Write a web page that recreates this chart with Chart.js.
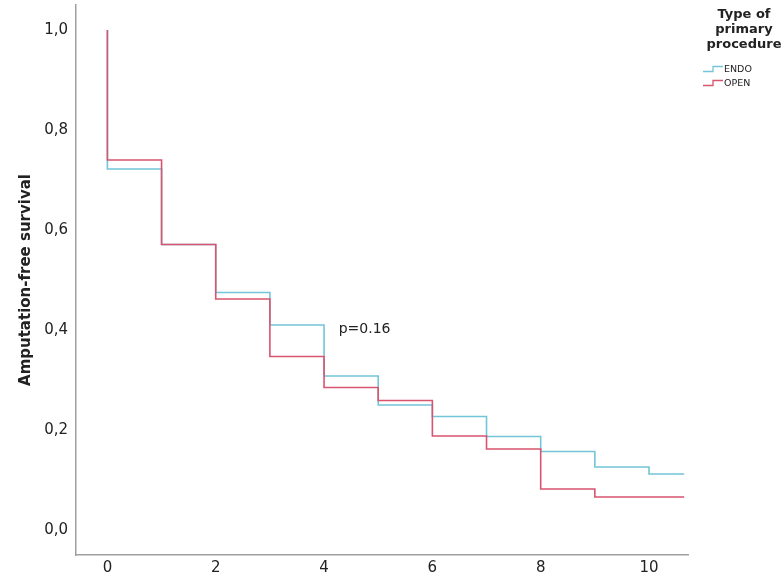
<!DOCTYPE html>
<html>
<head>
<meta charset="utf-8">
<script src="https://cdn.jsdelivr.net/npm/chart.js@4/dist/chart.umd.min.js"></script>
<style>
  html, body { margin: 0; padding: 0; background: #fff; }
  #wrap { position: relative; width: 782px; height: 580px; }
  #legend { position: absolute; left: 703px; top: 6px; width: 84px; font-family: "DejaVu Sans", sans-serif; color: #222; }
  #legend .title { font-weight: bold; font-size: 13px; line-height: 15px; text-align: center; padding-right: 2px; }
  #legend .item { font-size: 9.5px; line-height: 14px; height: 14px; display: flex; align-items: center; }
  #legend svg { margin-left: 0px; margin-right: 1px; }
</style>
</head>
<body>
<div id="wrap">
  <canvas id="c" width="782" height="580"></canvas>
  <div id="legend"></div>
</div>
<script>
// ---- data ----
const seriesNames = ["ENDO", "OPEN"];
const seriesColors = ["#74c5d9", "#d9546f"];
const legendTitle = ["Type of", "primary", "procedure"];
const endoTimes  = [0, 0, 1, 2, 3, 4, 5, 6, 7, 8, 9, 10, 10.65];
const endoValues = [1.0, 0.722, 0.571, 0.475, 0.410, 0.308, 0.250, 0.227, 0.187, 0.157, 0.126, 0.112, 0.112];
const openTimes  = [0, 0, 1, 2, 3, 4, 5, 6, 7, 8, 9, 10.65];
const openValues = [1.0, 0.740, 0.571, 0.462, 0.347, 0.285, 0.259, 0.188, 0.162, 0.082, 0.066, 0.066];
const xTicks = [0, 2, 4, 6, 8, 10];
const yTicks = [0, 0.2, 0.4, 0.6, 0.8, 1.0];
const yTitle = "Amputation-free survival";
const pText = "p=0.16";
const pAt = { x: 4.27, y: 0.402 };

const FONT = '"DejaVu Sans", sans-serif';

function pts(ts, vs) { return ts.map((t, i) => ({ x: t, y: vs[i] })); }

// legend (HTML, real text)
const lg = document.getElementById('legend');
lg.innerHTML = '<div class="title">' + legendTitle.join('<br>') + '</div>' +
  '<div style="height:11px"></div>' +
  seriesNames.map((n, i) =>
    '<div class="item"><svg width="20" height="8"><polyline points="0,6.5 10,6.5 10,1.5 20,1.5" fill="none" stroke="' +
    seriesColors[i] + '" stroke-width="1.3"/></svg>' + n + '</div>').join('');

const pPlugin = {
  id: 'pval',
  afterDatasetsDraw(chart) {
    const ctx = chart.ctx;
    const xs = chart.scales.x, ys = chart.scales.y;
    ctx.save();
    ctx.font = '14px ' + FONT;
    ctx.fillStyle = '#222';
    ctx.textAlign = 'left';
    ctx.textBaseline = 'middle';
    ctx.fillText(pText, xs.getPixelForValue(pAt.x), ys.getPixelForValue(pAt.y));
    ctx.restore();
  }
};

new Chart(document.getElementById('c'), {
  type: 'line',
  data: {
    datasets: [
      { label: seriesNames[1], data: pts(openTimes, openValues), borderColor: seriesColors[1], stepped: 'before', order: 0 },
      { label: seriesNames[0], data: pts(endoTimes, endoValues), borderColor: seriesColors[0], stepped: 'before', order: 1 }
    ]
  },
  options: {
    responsive: false,
    animation: false,
    elements: { point: { radius: 0 }, line: { borderWidth: 1.6, fill: false } },
    layout: { padding: { top: 5, right: 94, bottom: 0, left: 0 } },
    plugins: { legend: { display: false }, tooltip: { enabled: false } },
    scales: {
      x: {
        type: 'linear', min: -0.58, max: 10.72,
        afterBuildTicks: (s) => { s.ticks = xTicks.map(v => ({ value: v })); },
        afterFit: (s) => { s.height = 25; s.paddingLeft = 0; s.paddingRight = 0; },
        grid: { display: false, drawTicks: false },
        border: { display: true, color: '#a0a0a0', width: 1.5 },
        ticks: { font: { family: FONT, size: 15 }, color: '#222', padding: 4, maxRotation: 0 }
      },
      y: {
        type: 'linear', min: -0.05, max: 1.05,
        afterBuildTicks: (s) => { s.ticks = yTicks.map(v => ({ value: v })); },
        afterFit: (s) => { s.width = 76; s.paddingTop = 0; s.paddingBottom = 0; },
        grid: { display: false, drawTicks: false },
        border: { display: true, color: '#a0a0a0', width: 1.5 },
        ticks: { font: { family: FONT, size: 15 }, color: '#222', padding: 8,
                 callback: (v) => Number(v).toFixed(1).replace('.', ',') },
        title: { display: true, text: yTitle, font: { family: FONT, size: 15, weight: 'bold' }, color: '#222', padding: { top: 17, bottom: 0 } }
      }
    }
  },
  plugins: [pPlugin]
});
</script>
</body>
</html>
